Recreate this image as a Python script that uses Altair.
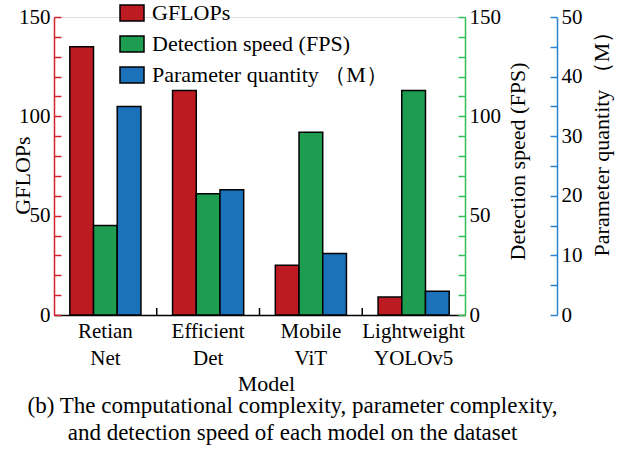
import altair as alt
import pandas as pd

models = ["Retian Net", "Efficient Det", "Mobile ViT", "Lightweight YOLOv5"]
gflops = [135, 113, 25, 9]
fps = [45, 61, 92, 113]
params = [35, 21, 10.3, 4]
series = ["GFLOPs", "Detection speed (FPS)", "Parameter quantity （M）"]
fill_colors = ["#BC1B21", "#1E9C50", "#1B71BA"]
axis_colors = ["#D2232A", "#35BF55", "#2A84D2"]
caption = ["(b) The computational complexity, parameter complexity,",
           "and detection speed of each model on the dataset"]

rows = []
for vals, s in zip([gflops, fps, params], series):
    for m, v in zip(models, vals):
        rows.append({"model": m, "series": s, "value": v})
df = pd.DataFrame(rows)

FONT = "Liberation Serif"
W, H = 411, 298

x_axis = alt.Axis(title="Model", labelExpr="split(datum.label, ' ')", ticks=False,
                  domainColor="black", domainWidth=1.5, labelAngle=0,
                  labelFont=FONT, labelFontSize=21, labelColor="black",
                  labelLineHeight=27, labelBaseline="alphabetic", labelPadding=22,
                  titleFont=FONT, titleFontSize=22, titleFontWeight="normal",
                  titleColor="black", titleX=212, titleY=75, titleBaseline="alphabetic")
x_scale = alt.Scale(domain=models, paddingInner=0, paddingOuter=0)


def xenc(**kw):
    return alt.X("model:N", sort=models, scale=x_scale, axis=x_axis, **kw)


xoff = alt.XOffset("series:N", sort=series,
                   scale=alt.Scale(domain=series, paddingInner=0, paddingOuter=0.667))
color = alt.Color("series:N", sort=series,
                  scale=alt.Scale(domain=series, range=fill_colors),
                  legend=alt.Legend(title=None, orient="none", legendX=67, legendY=-15,
                                    symbolType="M-1.5,-1H1.5V1H-1.5Z", symbolSize=256,
                                    symbolStrokeColor="black", symbolStrokeWidth=1.5,
                                    symbolOpacity=1, labelFont=FONT, labelFontSize=22,
                                    labelColor="black", labelOffset=9, rowPadding=9,
                                    padding=0, labelLimit=400))


def y_main(i, domain, values, orient, title, titleX, titleY, offset=0):
    return alt.Y("value:Q",
                 scale=alt.Scale(domain=domain, nice=False, zero=True),
                 axis=alt.Axis(orient=orient, offset=offset, values=values, ticks=False,
                               grid=False, domainColor=axis_colors[i], domainWidth=1.5,
                               labelFont=FONT, labelFontSize=21, labelColor="black",
                               labelPadding=4, title=title, titleFont=FONT,
                               titleFontSize=22, titleFontWeight="normal",
                               titleColor="black", titleAngle=270, titleAlign="center",
                               titleBaseline="bottom", titleX=titleX, titleY=titleY))


def y_ghost(i, domain, values, orient, offset):
    return alt.Y("value:Q",
                 scale=alt.Scale(domain=domain, nice=False, zero=True),
                 axis=alt.Axis(orient=orient, offset=offset, values=values, ticks=True,
                               tickSize=7, tickWidth=1.5, tickColor=axis_colors[i],
                               labels=False, domain=False, grid=False, title=None))


def bars(i, y):
    return alt.Chart(df).transform_filter(alt.datum.series == series[i]).mark_bar(
        stroke="black", strokeWidth=1.5).encode(x=xenc(), xOffset=xoff, y=y, color=color)


def ghost(i, y):
    return alt.Chart(df).transform_filter(alt.datum.series == series[i]).mark_bar(
        opacity=0).encode(x=xenc(), xOffset=xoff, y=y)


l_red = bars(0, y_main(0, [0, 150], [0, 50, 100, 150], "left", "GFLOPs", -20, 158))
g_red = ghost(0, y_ghost(0, [0, 150], list(range(0, 151, 10)), "left", -7))
l_green = bars(1, y_main(1, [0, 150], [0, 50, 100, 150], "right",
                         "Detection speed (FPS)", 64, 144))
g_green = ghost(1, y_ghost(1, [0, 150], list(range(0, 151, 10)), "right", -7))
l_blue = bars(2, y_main(2, [0, 50], [0, 10, 20, 30, 40, 50], "right",
                        "Parameter quantity （M）", 56, 121, offset=92))
g_blue = ghost(2, y_ghost(2, [0, 50], list(range(0, 51, 5)), "right", 85))

sep = alt.Chart(df).transform_filter(
    (alt.datum.series == series[0]) & (alt.datum.model != models[0])
).mark_rule(color="black", strokeWidth=1.5).encode(
    x=xenc(bandPosition=0), y=alt.value(H), y2=alt.value(H - 7))

chart = alt.layer(l_red, g_red, l_green, g_green, l_blue, g_blue, sep).resolve_scale(
    y="independent"
).properties(
    width=W, height=H,
    autosize=alt.AutoSizeParams(type="none"),
    padding={"left": 54, "top": 17, "right": 156, "bottom": 134},
    title=alt.TitleParams(text=caption, orient="bottom", anchor="middle", frame="group",
                          font=FONT, fontSize=23, fontWeight="normal", color="black",
                          lineHeight=27, offset=1, dx=33),
).configure_view(stroke=None).configure(background="white")

chart.save("out.html", embed_options={"renderer": "svg", "actions": False})
